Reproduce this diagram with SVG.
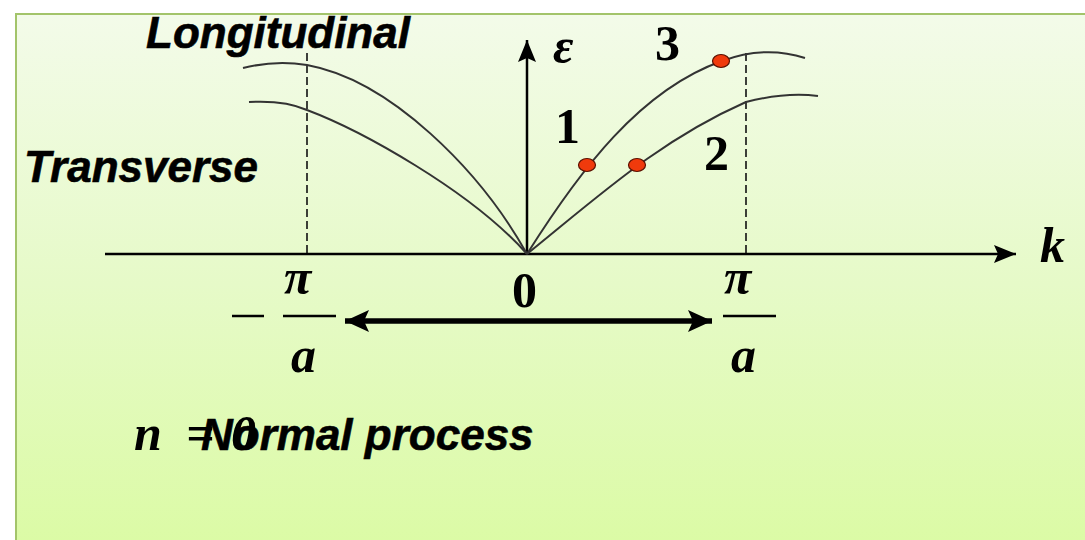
<svg xmlns="http://www.w3.org/2000/svg" width="1085" height="540" viewBox="0 0 1085 540">
  <defs>
    <linearGradient id="bg" x1="0" y1="0" x2="0" y2="1">
      <stop offset="0" stop-color="#f3fbe9"/>
      <stop offset="0.5" stop-color="#e6fac8"/>
      <stop offset="1" stop-color="#dbfba4"/>
    </linearGradient>
    <marker id="axisHead" viewBox="0 0 22 18" refX="22" refY="9" markerWidth="22" markerHeight="18" markerUnits="userSpaceOnUse" orient="auto">
      <path d="M0,0 L22,9 L0,18 L4,9 z" fill="#000"/>
    </marker>
    <marker id="bigHead" viewBox="0 0 24 22" refX="24" refY="11" markerWidth="24" markerHeight="22" markerUnits="userSpaceOnUse" orient="auto-start-reverse">
      <path d="M0,0 L24,11 L0,22 L5,11 z" fill="#000"/>
    </marker>
    <style>
      .axis { stroke:#000; stroke-width:2.5; fill:none; }
      .curve { stroke:#333; stroke-width:2; fill:none; }
      .dash { stroke:#111; stroke-width:1.6; stroke-dasharray:8 4; fill:none; }
      .dot { fill:#f03a0c; stroke:#5a1000; stroke-width:1.2; }
      .lbl { font-family:"Liberation Sans", Arial, sans-serif; font-weight:bold; font-style:italic; font-size:44px; fill:#000; stroke:#000; stroke-width:0.6; }
      .num { font-family:"Liberation Serif", "Times New Roman", serif; font-weight:bold; font-size:50px; fill:#000; }
      .mth { font-family:"Liberation Serif", "Times New Roman", serif; font-weight:bold; font-style:italic; font-size:50px; fill:#000; }
      .bar { stroke:#000; stroke-width:2.5; }
    </style>
  </defs>

  <rect id="background" x="16" y="14" width="1090" height="540" fill="url(#bg)" stroke="#a3c46a" stroke-width="2"/>

  <g id="connectors">
    <line id="k-axis" class="axis" x1="105" y1="254" x2="1016" y2="254" marker-end="url(#axisHead)"/>
    <line id="e-axis" class="axis" x1="527" y1="254" x2="527" y2="40" marker-end="url(#axisHead)"/>
    <line id="dash-left" class="dash" x1="307" y1="53" x2="307" y2="254"/>
    <line id="dash-right" class="dash" x1="746" y1="53" x2="746" y2="254"/>
    <line id="zone-arrow" x1="345" y1="321" x2="712" y2="321" stroke="#000" stroke-width="5.5" marker-start="url(#bigHead)" marker-end="url(#bigHead)"/>
  </g>

  <g id="curves">
    <path id="left-longitudinal" class="curve" d="M243,68 Q275,60 307,65 C390,80 480,170 527,254"/>
    <path id="left-transverse" class="curve" d="M249,102 Q285,100 307,110 C360,130 470,190 527,254"/>
    <path id="right-longitudinal" class="curve" d="M527,254 C580,170 640,90 722,61 Q765,45 805,58"/>
    <path id="right-transverse" class="curve" d="M527,254 C600,195 660,140 746,102 Q785,92 818,96"/>
  </g>

  <g id="point-1"><ellipse class="dot" cx="587" cy="165" rx="8.5" ry="6.5"/></g>
  <g id="point-2"><ellipse class="dot" cx="637" cy="165" rx="8.5" ry="6.5"/></g>
  <g id="point-3"><ellipse class="dot" cx="721" cy="61" rx="8.5" ry="6.5"/></g>

  <g id="labels">
    <text class="lbl" x="146" y="48">Longitudinal</text>
    <text class="lbl" x="24" y="182">Transverse</text>
    <text class="mth" x="553" y="63" font-size="52">ε</text>
    <text class="num" x="655" y="60">3</text>
    <text class="num" x="555" y="143">1</text>
    <text class="num" x="704" y="170">2</text>
    <text class="mth" x="1040" y="262" font-size="54">k</text>
    <text class="num" x="512" y="307">0</text>
  </g>

  <g id="left-fraction">
    <line class="bar" x1="232" y1="316" x2="264" y2="316"/>
    <line class="bar" x1="283" y1="316" x2="336" y2="316"/>
    <text class="mth" x="284" y="294" font-size="54">π</text>
    <text class="mth" x="291" y="372" font-size="52">a</text>
  </g>

  <g id="right-fraction">
    <line class="bar" x1="723" y1="316" x2="776" y2="316"/>
    <text class="mth" x="724" y="294" font-size="54">π</text>
    <text class="mth" x="731" y="372" font-size="52">a</text>
  </g>

  <g id="process-label">
    <text class="mth" x="134" y="450" font-size="48">n</text>
    <text class="mth" x="186" y="450" font-size="48">=</text>
    <text class="mth" x="231" y="450" font-size="48">0</text>
    <text class="lbl" x="201" y="450">Normal process</text>
  </g>
</svg>
